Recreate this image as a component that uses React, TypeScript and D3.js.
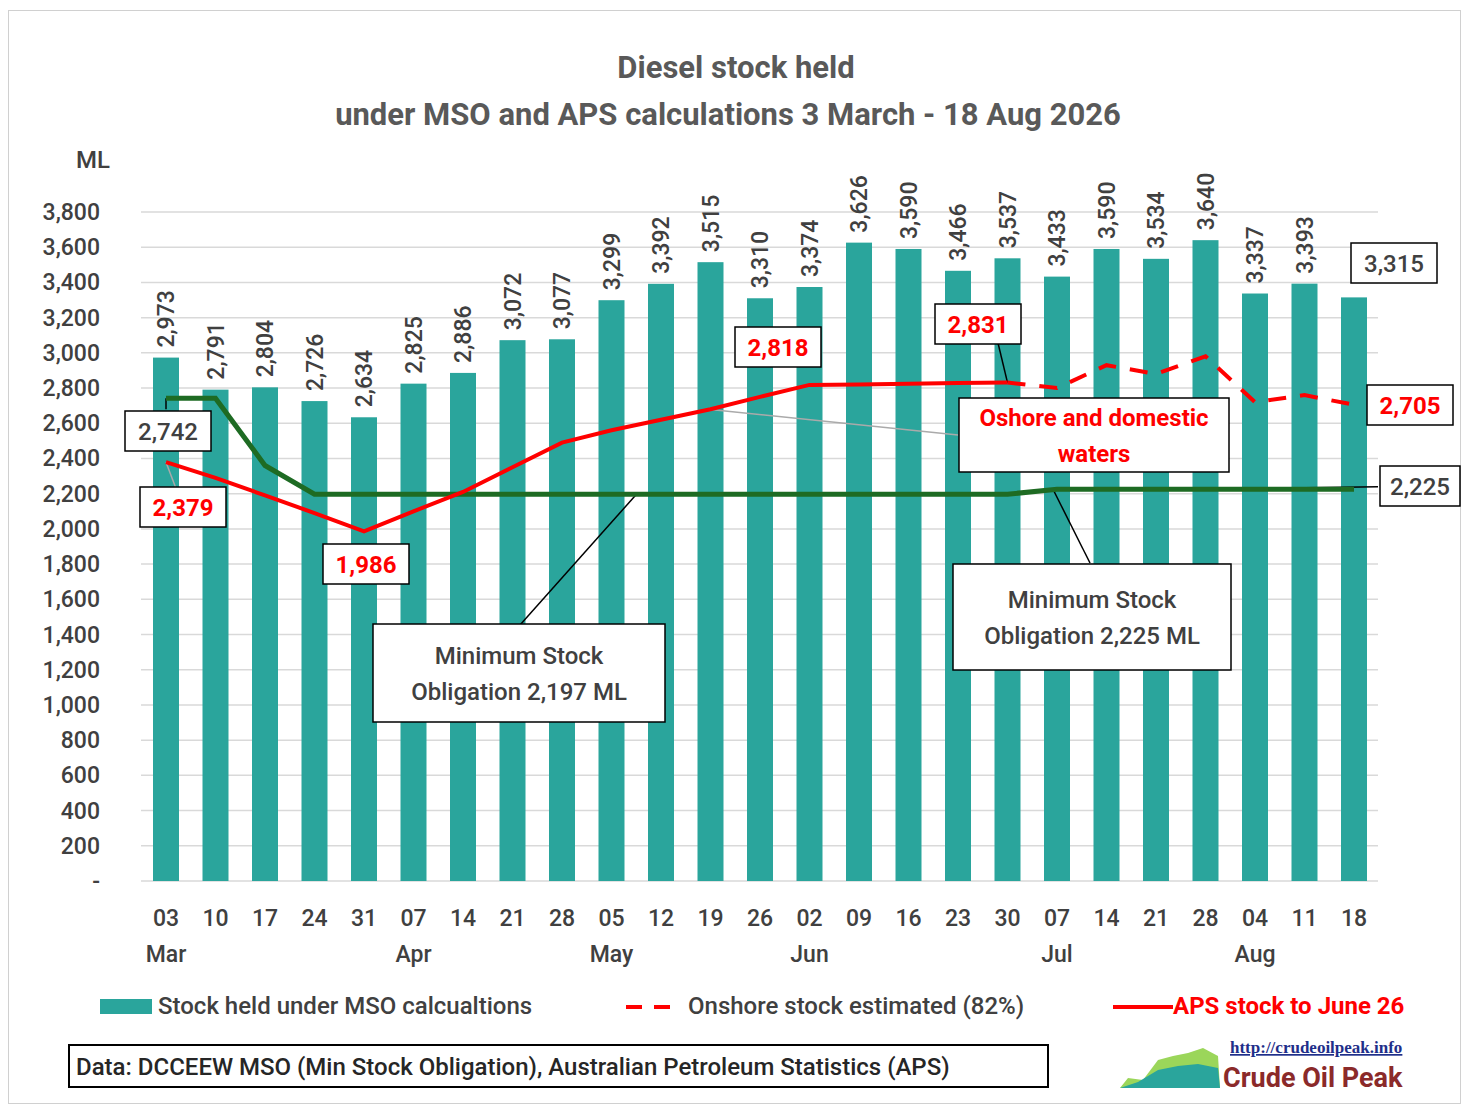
import * as d3 from 'd3';

const weeks = ['03','10','17','24','31','07','14','21','28','05','12','19','26','02','09','16','23','30','07','14','21','28','04','11','18'];
const months = [{ i: 0, m: 'Mar' }, { i: 5, m: 'Apr' }, { i: 9, m: 'May' }, { i: 13, m: 'Jun' }, { i: 18, m: 'Jul' }, { i: 22, m: 'Aug' }];
const stock = [2973,2791,2804,2726,2634,2825,2886,3072,3077,3299,3392,3515,3310,3374,3626,3590,3466,3537,3433,3590,3534,3640,3337,3393,3315];
const aps = [2379,2290,2190,2090,1986,2100,2210,2350,2490,2560,2620,2680,2750,2818,2820,2825,2828,2831];
const onshore: [number, number][] = [[17,2831],[18,2800],[19,2930],[20,2880],[21,2980],[22,2720],[23,2760],[24,2705]];
const mso = [2742,2742,2360,2197,2197,2197,2197,2197,2197,2197,2197,2197,2197,2197,2197,2197,2197,2197,2225,2225,2225,2225,2225,2225,2225];
const yTicks = d3.range(0, 3801, 200);

const FONT = 'Roboto, "Noto Sans", sans-serif';
const TEAL = '#2aa59c';
const GREY = '#404040';

export default function App() {
  const x = d3.scaleLinear().domain([0, 24]).range([158, 1346]);
  const y = d3.scaleLinear().domain([0, 3800]).range([873, 204]);
  const bw = 26;
  const line = d3.line<number>().x((_, i) => x(i)).y((d) => y(d));
  const line2 = d3.line<[number, number]>().x((d) => x(d[0])).y((d) => y(d[1]));

  const box = (cx: number, cy: number, w: number, h: number, lines: string[], color: string, fs = 24) => (
    <g>
      <rect x={cx - w / 2} y={cy - h / 2} width={w} height={h} fill="#fff" stroke="#000" strokeWidth={1.5} />
      {lines.map((t, k) => (
        <text key={k} x={cx} y={cy + (k - (lines.length - 1) / 2) * 36 + fs * 0.36} textAnchor="middle" fill={color} fontSize={fs} fontWeight={color === GREY || color === '#000' ? 500 : 700}>{t}</text>
      ))}
    </g>
  );

  return (
    <svg width={1456} height={1100} style={{ fontFamily: FONT, display: 'block' }}>
      <rect x={0.5} y={2.5} width={1452} height={1093} fill="#fff" stroke="#d0d0d0" />
      <text x={728} y={70} textAnchor="middle" fontSize={31} fontWeight={700} fill="#595959">Diesel stock held</text>
      <text x={720} y={117} textAnchor="middle" fontSize={31} fontWeight={700} fill="#595959">under  MSO and APS calculations 3 March - 18 Aug  2026</text>
      <text x={85} y={160} textAnchor="middle" fontSize={24} fontWeight={500} fill={GREY}>ML</text>
      {yTicks.map((t) => (
        <g key={t}>
          {t > 0 && <line x1={133} x2={1370} y1={y(t)} y2={y(t)} stroke="#d9d9d9" strokeWidth={1.5} />}
          <text x={92} y={y(t) + 8} textAnchor="end" fontSize={23} fontWeight={500} fill={GREY}>{t === 0 ? '-' : d3.format(',')(t)}</text>
        </g>
      ))}
      <line x1={133} x2={1370} y1={y(0)} y2={y(0)} stroke="#d9d9d9" strokeWidth={1.5} />
      {stock.map((v, i) => (
        <g key={i}>
          <rect x={x(i) - bw / 2} y={y(v)} width={bw} height={y(0) - y(v)} fill={TEAL} />
          {i < 24 && (
            <text transform={`translate(${x(i) + 8},${y(v) - 10}) rotate(-90)`} fontSize={23} fontWeight={500} fill={GREY}>{d3.format(',')(v)}</text>
          )}
        </g>
      ))}
      {weeks.map((w, i) => (
        <text key={i} x={x(i)} y={918} textAnchor="middle" fontSize={23} fontWeight={500} fill={GREY}>{w}</text>
      ))}
      {months.map((m) => (
        <text key={m.m} x={x(m.i)} y={954} textAnchor="middle" fontSize={23} fontWeight={500} fill={GREY}>{m.m}</text>
      ))}
      {/* leader lines */}
      <line x1={x(0)} y1={y(2742)} x2={x(0)} y2={y(2680)} stroke="#000" strokeWidth={1.5} />
      <line x1={x(0)} y1={y(2379)} x2={x(0) + 12} y2={y(2200)} stroke="#aaa" strokeWidth={1.5} />
      <line x1={700} y1={y(2680)} x2={950} y2={427} stroke="#aaa" strokeWidth={1.5} />
      <line x1={x(9) + 25} y1={y(2197)} x2={512} y2={617} stroke="#000" strokeWidth={1.5} />
      <line x1={1045} y1={y(2225)} x2={1082} y2={555} stroke="#000" strokeWidth={1.5} />
      <line x1={1197} y1={y(2225)} x2={1370} y2={y(2240)} stroke="#000" strokeWidth={1.5} />
      <line x1={990} y1={335} x2={x(17)} y2={y(2831)} stroke="#000" strokeWidth={1.5} />
      <path d={line(mso) ?? ''} fill="none" stroke="#1e6b23" strokeWidth={5} />
      <path d={line(aps) ?? ''} fill="none" stroke="#ff0000" strokeWidth={4} />
      <path d={line2(onshore) ?? ''} fill="none" stroke="#ff0000" strokeWidth={4} strokeDasharray="18 14" />
      {box(160, 423, 86, 40, ['2,742'], GREY)}
      {box(175, 499, 86, 40, ['2,379'], '#ff0000')}
      {box(358, 556, 86, 40, ['1,986'], '#ff0000')}
      {box(770, 339, 86, 40, ['2,818'], '#ff0000')}
      {box(970, 316, 86, 40, ['2,831'], '#ff0000')}
      {box(1402, 397, 86, 40, ['2,705'], '#ff0000')}
      {box(1386, 255, 86, 40, ['3,315'], GREY)}
      {box(1412, 478, 80, 40, ['2,225'], GREY)}
      {box(1086, 427, 270, 74, ['Oshore and domestic', 'waters'], '#ff0000')}
      {box(511, 665, 292, 98, ['Minimum Stock', 'Obligation  2,197 ML'], GREY)}
      {box(1084, 609, 278, 106, ['Minimum Stock', 'Obligation 2,225 ML'], GREY)}
      {/* legend */}
      <rect x={92} y={991} width={52} height={15} fill={TEAL} />
      <text x={150} y={1006} fontSize={24} fontWeight={500} fill={GREY}>Stock held under MSO calcualtions</text>
      <line x1={618} x2={672} y1={999} y2={999} stroke="#ff0000" strokeWidth={4} strokeDasharray="16 12" />
      <text x={680} y={1006} fontSize={24} fontWeight={500} fill={GREY}>Onshore stock estimated (82%)</text>
      <line x1={1105} x2={1165} y1={999} y2={999} stroke="#ff0000" strokeWidth={4} />
      <text x={1165} y={1006} fontSize={24} fontWeight={700} fill="#ff0000">APS stock to June 26</text>
      <rect x={61} y={1037} width={979} height={42} fill="#fff" stroke="#000" strokeWidth={2} />
      <text x={68} y={1067} fontSize={24} fontWeight={500} fill="#262626">Data: DCCEEW MSO (Min Stock Obligation), Australian Petroleum Statistics (APS)</text>
      <text x={1222} y={1045} fontSize={17} fontWeight={700} fill="#1f2f8a" textDecoration="underline" fontFamily="'Liberation Serif', serif">http://crudeoilpeak.info</text>
      <text x={1215} y={1079} fontSize={27} fontWeight={700} fill="#8b2a2a">Crude Oil Peak</text>
      <path d="M1112,1080 L1120,1070 L1135,1072 L1150,1052 L1165,1048 L1180,1045 L1195,1040 L1210,1048 L1212,1080 Z" fill="#9bd65a" />
      <path d="M1112,1080 L1130,1074 L1150,1062 L1170,1058 L1190,1056 L1210,1060 L1212,1080 Z" fill="#2aa59c" />
    </svg>
  );
}
